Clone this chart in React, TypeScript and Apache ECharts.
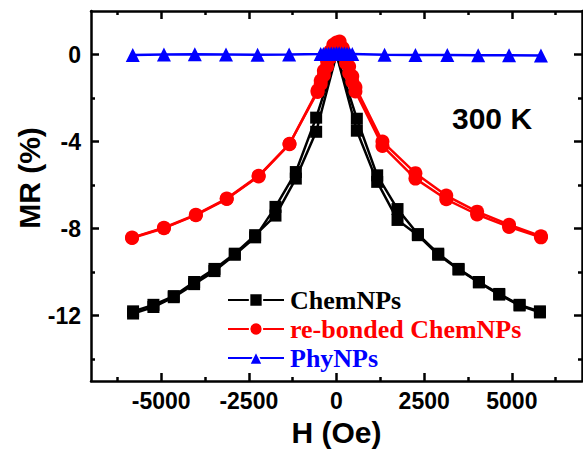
import React, { useEffect, useRef } from "react";
import * as echarts from "echarts";

// ---- data ----
const X_MAJOR = [-5000, -2500, 0, 2500, 5000];
const X_MINOR = [-6250, -3750, -1250, 1250, 3750, 6250];
const Y_MAJOR = [-12, -8, -4, 0];
const Y_MINOR = [-14, -10, -6, -2];

const H_CHEM = [-5800, -5220, -4640, -4060, -3480, -2900, -2320, -1740, -1160, -580, 0, 580, 1160, 1740, 2320, 2900, 3480, 4060, 4640, 5220, 5800];
const CHEM_A = [-11.9, -11.6, -11.15, -10.55, -9.95, -9.2, -8.4, -7.0, -5.4, -2.9, 0, -3.5, -5.85, -7.6, -8.3, -9.2, -9.88, -10.47, -11.03, -11.53, -11.85];
const CHEM_B = [-11.8, -11.5, -11.1, -10.45, -9.85, -9.15, -8.3, -7.4, -5.7, -3.55, 0, -2.95, -5.55, -7.1, -8.25, -9.15, -9.85, -10.45, -11.0, -11.5, -11.8];

const H_RED = [-5830, -4920, -4010, -3130, -2220, -1340, -540, -450, -360, -270, -180, -90, 0, 90, 180, 270, 360, 450, 540, 1310, 2250, 3130, 4010, 4920, 5830];
const RED_A = [-8.41, -7.96, -7.36, -6.62, -5.57, -4.1, -1.72, -1.35, -0.95, -0.55, -0.15, 0.25, 0.5, 0.6, 0.3, -0.1, -0.55, -1.0, -1.5, -4.0, -5.45, -6.48, -7.22, -7.82, -8.35];
const RED_B = [-8.43, -7.98, -7.38, -6.64, -5.6, -4.12, -1.65, -1.2, -0.75, -0.3, 0.15, 0.45, 0.55, 0.35, 0.0, -0.4, -0.85, -1.25, -1.7, -4.2, -5.7, -6.65, -7.35, -7.92, -8.4];

const H_BLUE = [-5810, -4920, -4040, -3150, -2250, -1350, -450, -375, -300, -225, -150, -75, 0, 75, 150, 225, 300, 375, 450, 1370, 2250, 3160, 4040, 4920, 5830];
const BLUE = [-0.02, 0.0, 0.01, 0.0, -0.01, 0.0, 0.02, 0.03, 0.03, 0.04, 0.05, 0.05, 0.06, 0.06, 0.05, 0.05, 0.04, 0.03, 0.03, -0.01, -0.02, -0.02, -0.03, -0.03, -0.04];

const zip = (xs: number[], ys: number[]) => xs.map((x, i) => [x, ys[i]]);

const SANS = "'Liberation Sans', Arial, sans-serif";
const SERIF = "'Liberation Serif', 'Times New Roman', serif";

export default function App() {
  const ref = useRef<HTMLDivElement>(null);
  useEffect(() => {
    if (!ref.current) return;
    const chart = echarts.init(ref.current, undefined, { renderer: "svg" });
    const lineW = 2.5;
    const xBase = { type: "value", min: -7000, max: 7000, gridIndex: 0, splitLine: { show: false } };
    const yBase = { type: "value", min: -15, max: 2, gridIndex: 0, splitLine: { show: false } };
    const tick = (vals: number[], len: number) => ({
      show: true, inside: true, length: len, customValues: vals,
      lineStyle: { color: "#000", width: lineW },
    });
    const labelStyle = { fontFamily: SANS, fontWeight: "bold", fontSize: 23, color: "#000" };
    const mk = (name: string, data: number[][], color: string, symbol: string, size: number) => ({
      name, type: "line", data, symbol, symbolSize: size,
      lineStyle: { color, width: 2.5 }, itemStyle: { color },
      xAxisIndex: 0, yAxisIndex: 0, z: 3,
    });
    const legText = (color: string) => ({
      color, fontFamily: SERIF, fontWeight: "bold", fontSize: 26, lineHeight: 24, padding: [0, 0, 0, 1],
    });
    chart.setOption({
      animation: false,
      backgroundColor: "#fff",
      grid: { left: 91, top: 11, width: 491, height: 371, containLabel: false },
      xAxis: [
        {
          ...xBase, position: "bottom",
          axisLine: { show: true, onZero: false, lineStyle: { color: "#000", width: lineW } },
          axisTick: tick(X_MAJOR, 8),
          axisLabel: { ...labelStyle, customValues: X_MAJOR, margin: 8, formatter: (v: number) => String(v) },
          name: "H (Oe)", nameLocation: "middle", nameGap: 36,
          nameTextStyle: { fontFamily: SANS, fontWeight: "bold", fontSize: 30, color: "#000" },
        },
        { ...xBase, position: "bottom", axisLine: { show: false, onZero: false }, axisTick: tick(X_MINOR, 4), axisLabel: { show: false } },
        { ...xBase, position: "top", axisLine: { show: true, onZero: false, lineStyle: { color: "#000", width: lineW } }, axisTick: tick(X_MAJOR, 8), axisLabel: { show: false } },
        { ...xBase, position: "top", axisLine: { show: false, onZero: false }, axisTick: tick(X_MINOR, 4), axisLabel: { show: false } },
      ],
      yAxis: [
        {
          ...yBase, position: "left",
          axisLine: { show: true, onZero: false, lineStyle: { color: "#000", width: lineW } },
          axisTick: tick(Y_MAJOR, 8),
          axisLabel: { ...labelStyle, customValues: Y_MAJOR, margin: 10, formatter: (v: number) => String(v) },
        },
        { ...yBase, position: "left", axisLine: { show: false, onZero: false }, axisTick: tick(Y_MINOR, 4), axisLabel: { show: false } },
        { ...yBase, position: "right", axisLine: { show: true, onZero: false, lineStyle: { color: "#000", width: lineW } }, axisTick: tick(Y_MAJOR, 8), axisLabel: { show: false } },
        { ...yBase, position: "right", axisLine: { show: false, onZero: false }, axisTick: tick(Y_MINOR, 4), axisLabel: { show: false } },
      ],
      legend: {
        orient: "vertical", left: 227, top: 287, padding: 0, itemWidth: 56, itemHeight: 16, itemGap: 3,
        itemStyle: { borderColor: "#fff", borderWidth: 1.5 },
        textStyle: legText("#000"),
        data: [
          { name: "ChemNPs", textStyle: legText("#000000") },
          { name: "re-bonded ChemNPs", textStyle: legText("#ff0000") },
          { name: "PhyNPs", textStyle: legText("#0000ff") },
        ],
      },
      graphic: [
        {
          type: "text", left: 452, top: 103,
          style: { text: "300 K", font: `bold 30px ${SANS}`, fill: "#000" },
        },
        {
          type: "text", x: 29, y: 178, rotation: Math.PI / 2,
          style: { text: "MR (%)", font: `bold 30px ${SANS}`, fill: "#000", align: "center", verticalAlign: "middle" },
        },
      ],
      series: [
        mk("ChemNPs", zip(H_CHEM, CHEM_A), "#000000", "rect", 12),
        mk("ChemNPs", zip(H_CHEM, CHEM_B), "#000000", "rect", 12),
        mk("re-bonded ChemNPs", zip(H_RED, RED_A), "#ff0000", "circle", 14),
        mk("re-bonded ChemNPs", zip(H_RED, RED_B), "#ff0000", "circle", 14),
        mk("PhyNPs", zip(H_BLUE, BLUE), "#0000ff", "triangle", 14),
      ],
    });
    return () => chart.dispose();
  }, []);
  return <div ref={ref} style={{ position: "fixed", left: 0, top: 0, width: 583, height: 452 }} />;
}
